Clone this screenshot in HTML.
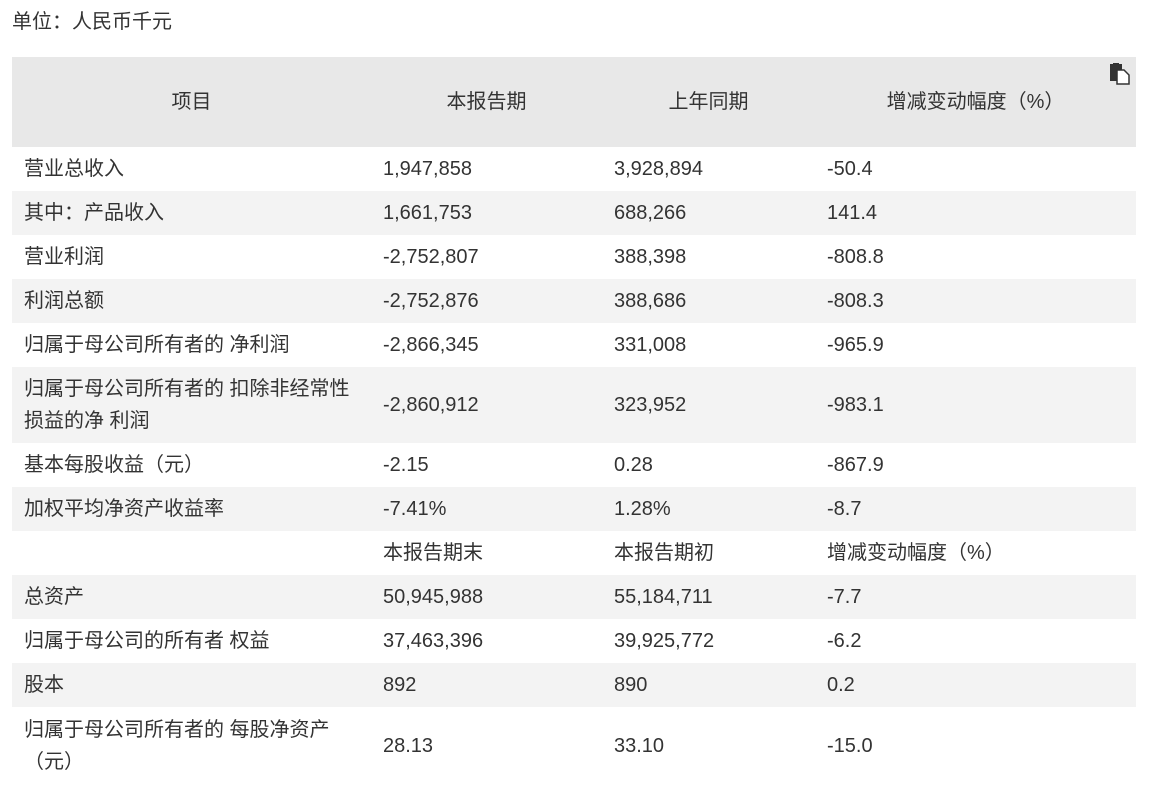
<!DOCTYPE html>
<html><head><meta charset="utf-8"><style>
body{margin:0;background:#fff;width:1156px;height:792px;overflow:hidden;font-family:"Liberation Sans","Noto Sans CJK SC",sans-serif;color:#333;font-size:20px}
.unit{position:absolute;left:12px;top:8px;line-height:28px}
table{position:absolute;left:12px;top:57px;width:1124px;border-collapse:collapse;table-layout:fixed}
td,th{padding:0 0 0 12px;line-height:26px;text-align:left;font-weight:normal;vertical-align:middle;white-space:nowrap}
td.w{line-height:32px}
th{height:90px;background:#e8e8e8;text-align:center;padding:0}
tr{height:44px}
tr.g td{background:#f3f3f3}
.icon{position:absolute;left:1109px;top:63px;width:22px;height:22px}
</style></head><body>
<div class="unit">单位：人民币千元</div>
<table>
<colgroup><col style="width:359px"><col style="width:231px"><col style="width:213px"><col style="width:321px"></colgroup>
<tr><th>项目</th><th>本报告期</th><th>上年同期</th><th>增减变动幅度（%）</th></tr>
<tr><td>营业总收入</td><td>1,947,858</td><td>3,928,894</td><td>-50.4</td></tr>
<tr class="g"><td>其中：产品收入</td><td>1,661,753</td><td>688,266</td><td>141.4</td></tr>
<tr><td>营业利润</td><td>-2,752,807</td><td>388,398</td><td>-808.8</td></tr>
<tr class="g"><td>利润总额</td><td>-2,752,876</td><td>388,686</td><td>-808.3</td></tr>
<tr><td>归属于母公司所有者的 净利润</td><td>-2,866,345</td><td>331,008</td><td>-965.9</td></tr>
<tr class="g" style="height:76px"><td class="w">归属于母公司所有者的 扣除非经常性<br>损益的净 利润</td><td>-2,860,912</td><td>323,952</td><td>-983.1</td></tr>
<tr><td>基本每股收益（元）</td><td>-2.15</td><td>0.28</td><td>-867.9</td></tr>
<tr class="g"><td>加权平均净资产收益率</td><td>-7.41%</td><td>1.28%</td><td>-8.7</td></tr>
<tr><td></td><td>本报告期末</td><td>本报告期初</td><td>增减变动幅度（%）</td></tr>
<tr class="g"><td>总资产</td><td>50,945,988</td><td>55,184,711</td><td>-7.7</td></tr>
<tr><td>归属于母公司的所有者 权益</td><td>37,463,396</td><td>39,925,772</td><td>-6.2</td></tr>
<tr class="g"><td>股本</td><td>892</td><td>890</td><td>0.2</td></tr>
<tr style="height:78px"><td class="w">归属于母公司所有者的 每股净资产<br>（元）</td><td>28.13</td><td>33.10</td><td>-15.0</td></tr>
</table>
<svg class="icon" viewBox="0 0 22 22"><rect x="1" y="1" width="12" height="17" fill="#333"/><rect x="4" y="0" width="6" height="3" fill="#333"/><path d="M8 7h7l5 5v9H8z" fill="#fff" stroke="#333" stroke-width="1.5"/></svg>
</body></html>
